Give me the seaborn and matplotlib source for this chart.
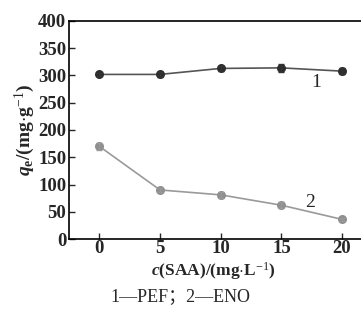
import matplotlib
matplotlib.use("Agg")
import matplotlib.pyplot as plt
import seaborn as sns
import pandas as pd

conc = [0, 5, 10, 15, 20]
pef = [302, 302, 313, 314, 308]
pef_err = [3, 5, 4, 8, 5]
eno = [170, 90, 81, 62, 36]
eno_err = [7, 4, 5, 5, 3]

sns.set_style("ticks")
plt.rcParams['font.family'] = ['Liberation Serif', 'DejaVu Serif']
plt.rcParams['mathtext.fontset'] = 'custom'
plt.rcParams['mathtext.rm'] = 'Liberation Serif'
plt.rcParams['mathtext.it'] = 'Liberation Serif:italic:bold'
plt.rcParams['mathtext.bf'] = 'Liberation Serif:bold'

df = pd.DataFrame({"c": conc * 2, "q": pef + eno,
                   "s": ["1"] * 5 + ["2"] * 5})

fig = plt.figure(figsize=(3.61, 3.25), dpi=100)
ax = fig.add_axes([69 / 361, 86 / 325, (372.4 - 69) / 361, 218 / 325])

sns.lineplot(data=df, x="c", y="q", hue="s", palette={"1": "#555555", "2": "#9a9a9a"},
             marker="o", markersize=6.5, linewidth=1.2, legend=False, ax=ax,
             markeredgewidth=0)
for ln, col in zip(ax.lines, ["#2e2e2e", "#8f8f8f"]):
    ln.set_markerfacecolor(col)
ax.errorbar(conc, pef, yerr=pef_err, fmt="none", ecolor="#333333", elinewidth=1, capsize=2.5)
ax.errorbar(conc, eno, yerr=eno_err, fmt="none", ecolor="#999999", elinewidth=1, capsize=2.5)

ax.set_xlim(-2.5, 22.5)
ax.set_ylim(0, 400)
ax.set_xticks(conc)
ax.set_yticks(range(0, 401, 50))
ax.tick_params(axis="y", direction="in", length=4, width=1, labelsize=13.5, pad=2)
ax.tick_params(axis="x", direction="in", length=4, width=1, labelsize=13.5, pad=1)
for lab in ax.get_xticklabels() + ax.get_yticklabels():
    lab.set_fontweight("bold")
for sp in ax.spines.values():
    sp.set_visible(True)
    sp.set_linewidth(1.2)
    sp.set_color("black")

ax.set_xlabel(r"$\mathit{c}$(SAA)/(mg$\mathbf{\cdot}$L$^{-1}$)", fontsize=12.5,
              fontweight="bold", va="center")
ax.xaxis.set_label_coords((213 - 69) / 303.4, -(271 - 239) / 218)
ax.set_ylabel(r"$\mathit{q}_{\mathbf{e}}$/(mg$\mathbf{\cdot}$g$^{-1}$)", fontsize=14,
              fontweight="bold", labelpad=1)

ax.text(17.9, 288, "1", fontsize=14, ha="center", va="center")
ax.text(17.4, 67, "2", fontsize=14, ha="center", va="center")

fig.text(0.5, 1 - 297 / 325, "1—PEF；2—ENO", ha="center", va="center", fontsize=13,
         family=['Liberation Serif', 'Noto Sans CJK SC'])

fig.savefig("out.png", dpi=100)
